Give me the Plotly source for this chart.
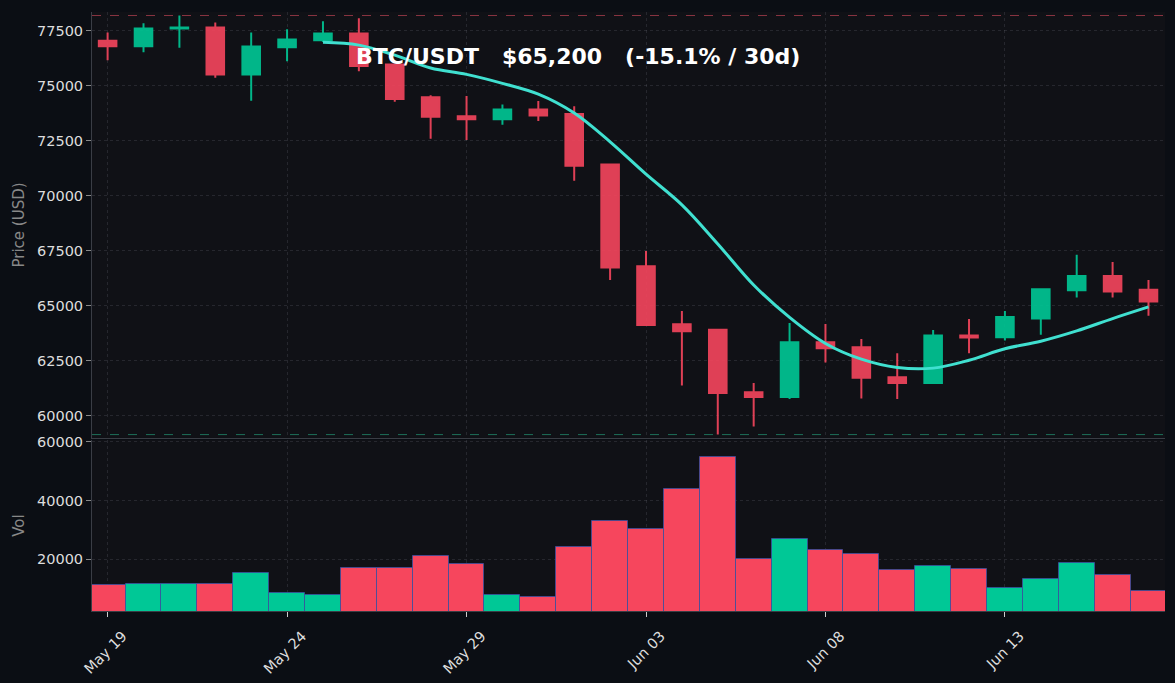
import pandas as pd
import plotly.graph_objects as go
from plotly.subplots import make_subplots

# daily BTC/USDT candles, May 19 - Jun 17
dates = pd.date_range("2024-05-19", periods=30, freq="D")
opens = [77050, 76800, 77610, 77660, 75520, 76760, 77080, 77380, 75970, 74480,
         73620, 73480, 73930, 73720, 71430, 66800, 64170, 63920, 61080, 60860,
         63350, 63120, 61760, 61490, 63650, 63580, 64430, 65710, 66360, 65730]
highs = [77430, 77850, 78200, 77880, 77430, 77580, 77940, 78080, 76000, 74570,
         74540, 74160, 74310, 74080, 71440, 67490, 64770, 63950, 61490, 64220,
         64180, 63500, 62850, 63910, 64410, 64770, 65800, 67320, 67000, 66180]
lows = [76170, 76530, 76730, 75370, 74320, 76120, 77000, 75670, 74280, 72600,
        72540, 73230, 73400, 70690, 66180, 64100, 61380, 59150, 59520, 60770,
        62430, 60790, 60770, 61480, 62850, 63430, 63690, 65380, 65380, 64550]
closes = [76800, 77610, 77660, 75520, 76790, 77110, 77380, 75910, 74410, 73600,
          73480, 73930, 73660, 71370, 66740, 64130, 63850, 61040, 60860, 63350,
          63080, 61730, 61490, 63650, 63560, 64490, 65760, 66360, 65650, 65200]
volumes = [11300, 11650, 11650, 11650, 15400, 8600, 7900, 16950, 16900, 21250,
           18550, 7700, 7100, 24200, 33100, 30300, 43900, 54900, 20100, 26900,
           23200, 21700, 16300, 17600, 16750, 10200, 13350, 18800, 14600, 9300]

UP = "#00c896"
DOWN = "#f6465d"
BG = "#0b0e14"
PLOT_BG = "#101116"
GRID = "rgba(120,120,130,0.22)"

ma7 = pd.Series(closes).rolling(7).mean()
vol_colors = [UP if c >= o else DOWN for o, c in zip(opens, closes)]

fig = make_subplots(rows=2, cols=1, shared_xaxes=True)

fig.add_trace(go.Candlestick(
    x=dates, open=opens, high=highs, low=lows, close=closes,
    increasing=dict(line=dict(color=UP, width=2), fillcolor=UP),
    decreasing=dict(line=dict(color=DOWN, width=2), fillcolor=DOWN),
    opacity=0.9, showlegend=False, name="BTC/USDT"), row=1, col=1)

fig.add_trace(go.Scatter(
    x=dates, y=ma7, mode="lines", line=dict(color="#40e0d0", width=3, shape="spline"),
    showlegend=False, name="MA7"), row=1, col=1)

fig.add_trace(go.Bar(
    x=dates, y=volumes, marker=dict(color=vol_colors, line=dict(color="rgba(60,80,160,0.8)", width=1)),
    showlegend=False, name="Vol"), row=2, col=1)

# max / min reference lines
fig.add_hline(y=max(highs), row=1, col=1, line=dict(color="#8a3442", width=1, dash="dash"))
fig.add_hline(y=min(lows), row=1, col=1, line=dict(color="#1d6e58", width=1, dash="dash"))

fig.add_annotation(
    text="BTC/USDT   $65,200   (-15.1% / 30d)", xref="paper", yref="paper",
    x=0.2445, y=0.9265, xanchor="left", yanchor="middle", showarrow=False,
    font=dict(family="DejaVu Sans", size=22, color="white", weight="bold"))

day = pd.Timedelta(days=1)
xr = [dates[0] - 0.435 * day, dates[-1] + 0.46 * day]
axis_common = dict(showgrid=True, gridcolor=GRID, griddash="dot", showline=True,
                   linecolor="#3a3d45", linewidth=1, zeroline=False, automargin=False)

fig.update_layout(
    width=1175, height=683,
    paper_bgcolor=BG, plot_bgcolor=PLOT_BG,
    margin=dict(l=92, r=10, t=12, b=72),
    font=dict(family="DejaVu Sans", size=14.5, color="#dddddd"),
    bargap=0,
    xaxis=dict(domain=[0, 1], range=xr, rangeslider=dict(visible=False),
               showticklabels=False, tick0=dates[0], dtick=5 * 86400000, **axis_common),
    xaxis2=dict(domain=[0, 1], range=xr, tick0=dates[0], dtick=5 * 86400000,
                tickformat="%b %d", tickangle=-45, ticks="outside", ticklen=5,
                tickcolor="#cccccc", ticklabelshift=15, ticklabelstandoff=5, **axis_common),
    yaxis=dict(domain=[0.289, 1], range=[59000, 78360], dtick=2500, tickformat="d",
               ticks="outside", ticklen=5, tickcolor="#888888",
               title=dict(text="Price (USD)", font=dict(color="#888888", size=15), standoff=8),
               **axis_common),
    yaxis2=dict(domain=[0, 0.2855], range=[2400, 60600], dtick=20000, tickformat="d",
                ticks="outside", ticklen=5, tickcolor="#888888",
                title=dict(text="Vol", font=dict(color="#888888", size=15), standoff=8),
                **axis_common),
)

fig.write_html("out.html", config={"displayModeBar": False},
               post_script="document.body.style.margin='0';document.body.style.background='%s';" % BG)
